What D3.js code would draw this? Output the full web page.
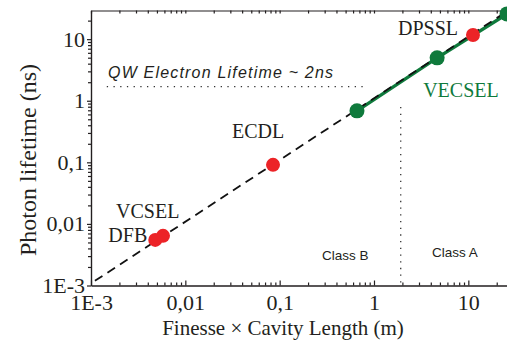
<!DOCTYPE html>
<html>
<head>
<meta charset="utf-8">
<script src="https://cdn.jsdelivr.net/npm/d3@7"></script>
<style>
  body { margin: 0; background: #fff; }
  svg { display: block; }
</style>
</head>
<body>
<div id="chart"></div>
<script>
// Photon lifetime vs finesse x cavity length (log-log)

const width = 507;
const height = 346;

// --- DATA ---
const lasers = ["DFB", "VCSEL", "ECDL", "DPSSL"];
const laserX = [0.0048, 0.0058, 0.085, 11.2];
const laserY = [0.0055, 0.0064, 0.091, 11.7];

const vecselX = [0.66, 4.67, 25.7];
const vecselY = [0.686, 4.97, 25.7];

// dashed trend  tau ~ F x L
const trendX = [0.0011, 25.7];
const trendY = [0.00119, 28.3];

const qwLifetime = 1.7;       // ns, horizontal dotted line
const qwRange = [0.00147, 0.84];
const classLimit = 1.92;      // m, vertical dotted line
const classRange = [0.001, 0.79];

const majorTicks = [0.001, 0.01, 0.1, 1, 10];
const tickLabels = ["1E-3", "0,01", "0,1", "1", "10"];

const red = "#ec2327";
const green = "#0f7a3c";
const ink = "#231f20";
const serif = "'Liberation Serif', 'Times New Roman', serif";
const sans = "'Liberation Sans', Arial, sans-serif";

// --- SCALES ---
const x = d3.scaleLog().domain([0.001, 25.7]).range([91, 507]);
const y = d3.scaleLog().domain([0.001, 29.2]).range([285.5, 10.5]);

function minors(scale) {
  const [a, b] = scale.domain();
  const out = [];
  for (let e = Math.floor(Math.log10(a)); e <= Math.ceil(Math.log10(b)); e++) {
    for (let m = 2; m <= 9; m++) {
      const v = m * Math.pow(10, e);
      if (v > a && v < b) out.push(v);
    }
  }
  return out;
}
const fmt = d => tickLabels[majorTicks.indexOf(d)];

const svg = d3.select("#chart")
  .append("svg")
  .attr("width", width)
  .attr("height", height);

// --- AXES ---
const axisBottom = svg.append("g")
  .attr("transform", `translate(0,${y.range()[0]})`)
  .call(d3.axisBottom(x).tickValues(majorTicks).tickFormat(fmt)
    .tickSizeInner(-5).tickSizeOuter(0).tickPadding(9));
svg.append("g")
  .attr("transform", `translate(0,${y.range()[0]})`)
  .call(d3.axisBottom(x).tickValues(minors(x)).tickFormat("")
    .tickSizeInner(-3).tickSizeOuter(0));

const axisLeft = svg.append("g")
  .attr("transform", `translate(${x.range()[0]},0)`)
  .call(d3.axisLeft(y).tickValues(majorTicks).tickFormat(fmt)
    .tickSizeInner(4).tickSizeOuter(0).tickPadding(2));
svg.append("g")
  .attr("transform", `translate(${x.range()[0]},0)`)
  .call(d3.axisLeft(y).tickValues(minors(y)).tickFormat("")
    .tickSizeInner(3).tickSizeOuter(0));

// top frame
svg.append("g")
  .attr("transform", `translate(0,${y.range()[1]})`)
  .call(d3.axisTop(x).tickValues(majorTicks.concat(minors(x))).tickFormat("")
    .tickSizeInner(-3).tickSizeOuter(0));

svg.selectAll(".domain, .tick line")
  .attr("stroke", ink)
  .attr("stroke-width", 1.2);

[axisBottom, axisLeft].forEach(g => g.selectAll("text")
  .style("font-family", serif)
  .style("font-size", "22px")
  .attr("fill", ink));

// axis titles
svg.append("text")
  .attr("x", 283)
  .attr("y", 335)
  .attr("text-anchor", "middle")
  .style("font-family", serif)
  .style("font-size", "21px")
  .attr("fill", ink)
  .text("Finesse \u00d7 Cavity Length (m)");

svg.append("text")
  .attr("transform", "translate(36,160) rotate(-90)")
  .attr("text-anchor", "middle")
  .style("font-family", serif)
  .style("font-size", "24px")
  .attr("fill", ink)
  .text("Photon lifetime (ns)");

// --- REFERENCE LINES ---
svg.append("line")
  .attr("x1", x(qwRange[0])).attr("x2", x(qwRange[1]))
  .attr("y1", y(qwLifetime)).attr("y2", y(qwLifetime))
  .attr("stroke", "#333")
  .attr("stroke-width", 1.3)
  .attr("stroke-dasharray", "1.3,5.4");

svg.append("line")
  .attr("x1", x(classLimit)).attr("x2", x(classLimit))
  .attr("y1", y(classRange[1])).attr("y2", y(classRange[0]))
  .attr("stroke", "#333")
  .attr("stroke-width", 1.3)
  .attr("stroke-dasharray", "1.3,5.4");

// --- LINES ---
const line = d3.line().x(d => x(d[0])).y(d => y(d[1]));

svg.append("path")
  .datum(d3.zip(vecselX, vecselY))
  .attr("d", line)
  .attr("fill", "none")
  .attr("stroke", green)
  .attr("stroke-width", 3.4);

svg.append("path")
  .datum(d3.zip(trendX, trendY))
  .attr("d", line)
  .attr("fill", "none")
  .attr("stroke", "#111")
  .attr("stroke-width", 1.8)
  .attr("stroke-dasharray", "9,6");

// --- POINTS ---
svg.append("g")
  .selectAll("circle")
  .data(d3.zip(vecselX, vecselY))
  .join("circle")
  .attr("cx", d => x(d[0]))
  .attr("cy", d => y(d[1]))
  .attr("r", 7.5)
  .attr("fill", green);

svg.append("g")
  .selectAll("circle")
  .data(d3.zip(laserX, laserY))
  .join("circle")
  .attr("cx", d => x(d[0]))
  .attr("cy", d => y(d[1]))
  .attr("r", 7)
  .attr("fill", red);

// --- LABELS ---
const labelOffsets = {
  DFB:   { dx: -8,   dy: 2,   anchor: "end" },
  VCSEL: { dx: -47,  dy: -18, anchor: "start" },
  ECDL:  { dx: -41,  dy: -27, anchor: "start" },
  DPSSL: { dx: -75,  dy: 0,   anchor: "start" }
};

lasers.forEach((name, i) => {
  const o = labelOffsets[name];
  svg.append("text")
    .attr("x", x(laserX[i]) + o.dx)
    .attr("y", y(laserY[i]) + o.dy)
    .attr("text-anchor", o.anchor)
    .style("font-family", serif)
    .style("font-size", "20px")
    .attr("fill", ink)
    .text(name);
});

svg.append("text")
  .attr("x", x(vecselX[1]) - 14)
  .attr("y", y(vecselY[1]) + 39)
  .style("font-family", serif)
  .style("font-size", "20px")
  .attr("fill", green)
  .text("VECSEL");

svg.append("text")
  .attr("x", 108)
  .attr("y", 78)
  .attr("textLength", 225)
  .attr("lengthAdjust", "spacing")
  .style("font-family", sans)
  .style("font-style", "italic")
  .style("font-size", "16px")
  .attr("fill", ink)
  .text("QW Electron Lifetime ~ 2ns");

svg.append("text")
  .attr("x", 322)
  .attr("y", 260)
  .style("font-family", sans)
  .style("font-size", "13.5px")
  .attr("fill", ink)
  .text("Class B");

svg.append("text")
  .attr("x", 432)
  .attr("y", 257)
  .style("font-family", sans)
  .style("font-size", "13.5px")
  .attr("fill", ink)
  .text("Class A");
</script>
</body>
</html>
